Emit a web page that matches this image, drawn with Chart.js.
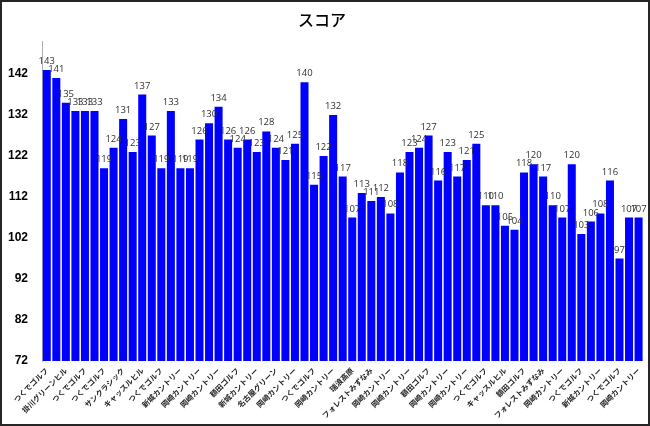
<!DOCTYPE html>
<html>
<head>
<meta charset="utf-8">
<script src="https://cdn.jsdelivr.net/npm/chart.js@4"></script>
<style>
  html, body { margin: 0; padding: 0; background: #fff; }
  #wrap { width: 650px; height: 426px; }
</style>
</head>
<body>
<div id="wrap"><canvas id="chart" width="650" height="426"></canvas></div>
<script>
// course names as printed under the axis (only every other bar gets a label)
const courses = [
    'つくでゴルフ', '掛川グリーンヒル', 'つくでゴルフ', 'つくでゴルフ', 'サンクラシック',
    'キャッスルヒル', 'つくでゴルフ', '新城カントリー', '岡崎カントリー', '岡崎カントリー',
    '額田ゴルフ', '新城カントリー', '名古屋グリーン', '岡崎カントリー', 'つくでゴルフ',
    '岡崎カントリー', '瑞浪高原', 'フォレストみずなみ', '岡崎カントリー', '岡崎カントリー',
    '額田ゴルフ', '岡崎カントリー', '岡崎カントリー', 'つくでゴルフ', 'キャッスルヒル',
    '額田ゴルフ', 'フォレストみずなみ', '岡崎カントリー', 'つくでゴルフ', '新城カントリー',
    'つくでゴルフ', '岡崎カントリー'
];

const scores = [
    143, 141, 135, 133, 133, 133, 119, 124, 131, 123,
    137, 127, 119, 133, 119, 119, 126, 130, 134, 126,
    124, 126, 123, 128, 124, 121, 125, 140, 115, 122,
    132, 117, 107, 113, 111, 112, 108, 118, 123, 124,
    127, 116, 123, 117, 121, 125, 110, 110, 105, 104,
    118, 120, 117, 110, 107, 120, 103, 106, 108, 116,
    97, 107, 107
];

const yTicks = [72, 82, 92, 102, 112, 122, 132, 142];

const labels = scores.map((_, i) => (i % 2 === 0 ? courses[i / 2] : ''));

/** White page and dark frame round the whole chart. */
const frame = {
    id: 'frame',
    beforeDraw(chart) {
        const {ctx, width, height} = chart;
        ctx.save();
        ctx.fillStyle = '#fff';
        ctx.fillRect(0, 0, width, height);
        ctx.restore();
    },
    afterDraw(chart) {
        const {ctx, width, height} = chart;
        ctx.save();
        ctx.strokeStyle = '#262626';
        ctx.lineWidth = 2;
        ctx.strokeRect(1, 1, width - 2, height - 2);
        ctx.restore();
    }
};

/** Score printed above each bar. */
const valueLabels = {
    id: 'valueLabels',
    afterDatasetsDraw(chart) {
        const {ctx} = chart;
        const meta = chart.getDatasetMeta(0);
        ctx.save();
        ctx.font = '9.5px "Open Sans"';
        ctx.fillStyle = '#303030';
        ctx.textAlign = 'center';
        ctx.textBaseline = 'alphabetic';
        meta.data.forEach((bar, i) => {
            ctx.fillText(String(scores[i]), bar.x, bar.y - 6);
        });
        ctx.restore();
    }
};

const config = {
    type: 'bar',
    data: {
        labels: labels,
        datasets: [{
            label: 'スコア',
            data: scores,
            backgroundColor: '#0000ff',
            barPercentage: 0.84,
            categoryPercentage: 1.0,
        }]
    },
    options: {
        responsive: false,
        animation: false,
        layout: {
            padding: {left: 0, right: 6, top: 4, bottom: 5}
        },
        plugins: {
            legend: {display: false},
            tooltip: {enabled: false},
            title: {
                display: true,
                text: 'スコア',
                color: '#000',
                font: {family: '"Noto Sans CJK JP"', size: 16, weight: '500'},
                padding: {top: 6, bottom: 12}
            }
        },
        scales: {
            x: {
                grid: {display: false, drawTicks: false},
                border: {display: false},
                ticks: {
                    autoSkip: false,
                    minRotation: 45,
                    maxRotation: 45,
                    padding: 5,
                    color: '#262626',
                    font: {family: '"Noto Sans CJK JP"', size: 7.5, weight: 'bold'}
                },
                afterFit(scale) {
                    scale.height = 60;
                }
            },
            y: {
                min: 72,
                max: 150,
                grid: {display: false, drawTicks: false},
                border: {display: true, color: '#b0b0b0'},
                ticks: {
                    padding: 14,
                    color: '#000',
                    font: {family: '"Liberation Sans"', size: 12, weight: 'bold'}
                },
                afterBuildTicks(scale) {
                    scale.ticks = yTicks.map(v => ({value: v}));
                },
                afterFit(scale) {
                    scale.width = 42;
                }
            }
        }
    },
    plugins: [frame, valueLabels]
};

new Chart(document.getElementById('chart'), config);
</script>
</body>
</html>
